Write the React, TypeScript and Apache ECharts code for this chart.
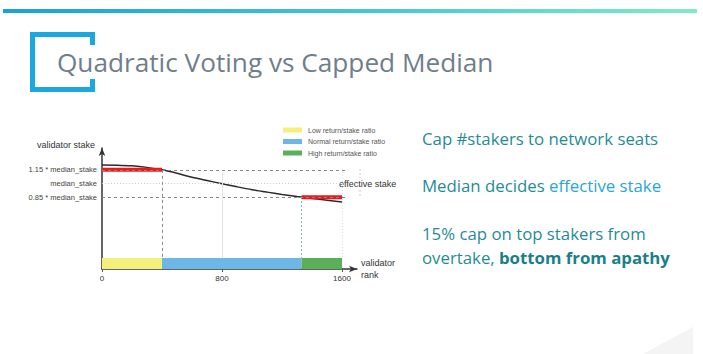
import React, { useEffect, useRef } from "react";
import * as echarts from "echarts";

// ---- data ----
const ranks = [0, 100, 200, 300, 400, 500, 600, 700, 800, 900, 1000, 1100, 1200, 1300, 1400, 1500, 1600];
const stake = [1.203, 1.201, 1.194, 1.177, 1.15, 1.112, 1.068, 1.032, 0.998, 0.964, 0.932, 0.905, 0.88, 0.857, 0.836, 0.816, 0.797];
const segmentNames = ["Low return/stake ratio", "Normal return/stake ratio", "High return/stake ratio"];
const segmentBounds = [0, 400, 1330, 1600];
const segmentColors = ["#f5ef7c", "#6db7e6", "#5caf59"];
const levelValues = [1.15, 1.0, 0.85];
const levelLabels = ["1.15 * median_stake", "median_stake", "0.85 * median_stake"];
const xTicks = [0, 800, 1600];
const capTop = [[0, 1.15], [400, 1.15]];
const capBottom = [[1330, 0.85], [1600, 0.85]];
const titleText = "Quadratic Voting vs Capped Median";
const bullets = [
  "Cap #stakers to network seats",
  "Median decides ",
  "effective stake",
  "15% cap on top stakers from",
  "overtake, ",
  "bottom from apathy",
];

const Y_MIN = 0.06;
const Y_MAX = 1.39;
const BAND_TOP = 0.18;
const X_MAX = 1700;

export default function App() {
  const ref = useRef<HTMLDivElement>(null);
  useEffect(() => {
    if (!ref.current) return;
    const chart = echarts.init(ref.current, null, { renderer: "svg" });
    const font = "Liberation Sans";
    const slideFont = "Open Sans";
    const teal = "#1f8c95";
    const bulletSize = 16.8;

    const bandAreas = segmentNames.map((n, i) => [
      { name: n, xAxis: segmentBounds[i], yAxis: Y_MIN, itemStyle: { color: segmentColors[i], opacity: 1 }, label: { show: false } },
      { xAxis: segmentBounds[i + 1], yAxis: BAND_TOP },
    ]);

    const dashStyle = { color: "#888", type: [3, 3] as any, width: 1 };
    const levelLines: any[] = levelValues.map((v, i) => [
      {
        coord: [0, v],
        lineStyle: i === 1 ? { color: "#cfcfcf", type: [1, 2] as any, width: 1 } : dashStyle,
        label: {
          show: true,
          position: "start",
          formatter: levelLabels[i],
          fontSize: 7.5,
          color: "#444",
          fontFamily: font,
          distance: 5,
        },
      },
      { coord: [1620, v] },
    ]);
    const verticals: any[] = [
      [{ coord: [400, 1.15], lineStyle: dashStyle, label: { show: false } }, { coord: [400, BAND_TOP] }],
      [{ coord: [1330, 0.85], lineStyle: { color: "#7fb0a8", type: [2, 2] as any, width: 1 }, label: { show: false } }, { coord: [1330, BAND_TOP] }],
      [{ coord: [800, 1.12], lineStyle: { color: "#e4e4e4", type: "solid", width: 1 }, label: { show: false } }, { coord: [800, BAND_TOP] }],
      [{ coord: [1600, 1.16], lineStyle: { color: "#dcdcdc", type: [1, 2] as any, width: 1 }, label: { show: false } }, { coord: [1600, BAND_TOP] }],
    ];

    const legendGraphics: any[] = [];
    segmentNames.forEach((n, i) => {
      const y = 130 + i * 11.5;
      legendGraphics.push({
        type: "rect",
        shape: { x: 283, y: y - 2.5, width: 19, height: 5 },
        style: { fill: segmentColors[i] },
      });
      legendGraphics.push({
        type: "text",
        x: 308,
        y,
        style: { text: n, fontSize: 7, fill: "#555", fontFamily: font, verticalAlign: "middle" },
      });
    });

    const bracket = "#1ba7e0";
    chart.setOption({
      animation: false,
      backgroundColor: "#ffffff",
      grid: { left: 102, top: 148, width: 255, height: 121, containLabel: false },
      xAxis: {
        type: "value",
        min: 0,
        max: X_MAX,
        name: "validator\nrank",
        nameLocation: "end",
        nameGap: 4,
        nameTextStyle: { fontSize: 9, color: "#333", fontFamily: font, lineHeight: 12, align: "left", verticalAlign: "middle" },
        axisLine: { show: true, lineStyle: { color: "#333", width: 1.5 }, symbol: ["none", "arrow"], symbolSize: [5, 8] },
        axisTick: { show: true, length: 3, inside: false, lineStyle: { color: "#555" }, customValues: xTicks },
        axisLabel: { fontSize: 8, color: "#333", fontFamily: font, margin: 5, customValues: xTicks, formatter: (v: number) => String(v) },
        splitLine: { show: false },
      },
      yAxis: {
        type: "value",
        min: Y_MIN,
        max: Y_MAX,
        axisLine: { show: true, lineStyle: { color: "#333", width: 1.5 }, symbol: ["none", "arrow"], symbolSize: [5, 8] },
        axisTick: { show: false },
        axisLabel: { show: false },
        splitLine: { show: false },
      },
      series: [
        {
          type: "line",
          data: [],
          z: 1,
          markArea: { silent: true, label: { show: false }, data: bandAreas },
          markLine: { silent: true, symbol: ["none", "none"], data: [...levelLines, ...verticals] },
        },
        {
          type: "line",
          data: ranks.map((r, i) => [r, stake[i]]),
          smooth: 0.3,
          showSymbol: false,
          symbol: "none",
          lineStyle: { color: "#2b2b2b", width: 1.5 },
          z: 3,
        },
        {
          type: "line",
          data: capTop,
          showSymbol: false,
          symbol: "none",
          lineStyle: { color: "#ec1a1a", width: 4 },
          z: 4,
        },
        {
          type: "line",
          data: capBottom,
          showSymbol: false,
          symbol: "none",
          lineStyle: { color: "#ec1a1a", width: 4 },
          z: 4,
        },
      ],
      graphic: [
        {
          type: "rect",
          shape: { x: 3, y: 9, width: 694, height: 4 },
          style: {
            fill: new echarts.graphic.LinearGradient(0, 0, 1, 0, [
              { offset: 0, color: "#1aa1db" },
              { offset: 0.5, color: "#3ec6d6" },
              { offset: 1, color: "#7eecc4" },
            ]),
          },
        },
        { type: "rect", shape: { x: 30, y: 32, width: 5, height: 60 }, style: { fill: bracket } },
        { type: "rect", shape: { x: 30, y: 32, width: 65, height: 5 }, style: { fill: bracket } },
        { type: "rect", shape: { x: 90, y: 32, width: 5, height: 13 }, style: { fill: bracket } },
        { type: "rect", shape: { x: 30, y: 87, width: 65, height: 5 }, style: { fill: bracket } },
        { type: "rect", shape: { x: 90, y: 79, width: 5, height: 13 }, style: { fill: bracket } },
        {
          type: "text",
          x: 57,
          y: 62,
          style: { text: titleText, fontSize: 26.2, fill: "#707e8b", fontFamily: slideFont, verticalAlign: "middle" },
        },
        {
          type: "polygon",
          shape: { points: [[643, 354], [693, 327], [693, 354]] },
          style: { fill: "#f4f4f4" },
        },
        {
          type: "text",
          x: 66,
          y: 145,
          style: { text: "validator stake", fontSize: 9, fill: "#333", fontFamily: font, align: "center", verticalAlign: "middle" },
        },
        { type: "line", shape: { x1: 360, y1: 169, x2: 360, y2: 178 }, style: { stroke: "#ccc", lineWidth: 1, lineDash: [2, 2] } },
        { type: "line", shape: { x1: 360, y1: 190, x2: 360, y2: 197 }, style: { stroke: "#ccc", lineWidth: 1, lineDash: [2, 2] } },
        {
          type: "text",
          x: 339,
          y: 184,
          style: { text: "effective stake", fontSize: 9, fill: "#333", fontFamily: font, verticalAlign: "middle" },
        },
        ...legendGraphics,
        {
          type: "text",
          x: 422,
          y: 138,
          style: { text: bullets[0], fontSize: bulletSize, fill: teal, fontFamily: slideFont, verticalAlign: "middle" },
        },
        {
          type: "text",
          x: 422,
          y: 185,
          style: {
            text: `{a|${bullets[1]}}{b|${bullets[2]}}`,
            verticalAlign: "middle",
            rich: {
              a: { fontSize: bulletSize, fill: teal, color: teal, fontFamily: slideFont },
              b: { fontSize: bulletSize, fill: "#2aa6d6", color: "#2aa6d6", fontFamily: slideFont },
            },
          },
        },
        {
          type: "text",
          x: 422,
          y: 233,
          style: { text: bullets[3], fontSize: bulletSize, fill: teal, fontFamily: slideFont, verticalAlign: "middle" },
        },
        {
          type: "text",
          x: 422,
          y: 257,
          style: {
            text: `{a|${bullets[4]}}{b|${bullets[5]}}`,
            verticalAlign: "middle",
            rich: {
              a: { fontSize: bulletSize, fill: teal, color: teal, fontFamily: slideFont },
              b: { fontSize: bulletSize, fill: "#197f89", color: "#197f89", fontFamily: slideFont, fontWeight: "bold" },
            },
          },
        },
      ],
    });
    return () => chart.dispose();
  }, []);
  return (
    <div
      ref={ref}
      style={{ position: "fixed", left: 0, top: 0, width: 703, height: 354 }}
    />
  );
}
